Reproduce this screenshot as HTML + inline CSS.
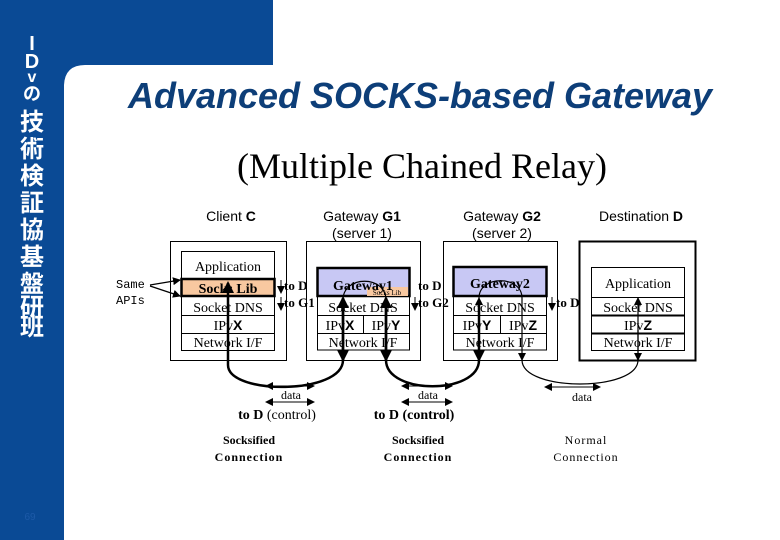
<!DOCTYPE html>
<html><head><meta charset="utf-8"><style>
body{margin:0;width:780px;height:540px;overflow:hidden;background:#fff}
svg{display:block}
.s{font-family:"Liberation Serif",serif}
.a{font-family:"Liberation Sans",sans-serif}
</style></head><body>
<svg width="780" height="540" viewBox="0 0 780 540">
<defs>
<marker id="ah" markerWidth="8" markerHeight="8" refX="7" refY="4" orient="auto" markerUnits="userSpaceOnUse"><path d="M0,0 L8,4 L0,8 z" fill="#000"/></marker>
<marker id="ahb" markerWidth="12" markerHeight="12" refX="10" refY="6" orient="auto" markerUnits="userSpaceOnUse"><path d="M0,0 L12,6 L0,12 z" fill="#000"/></marker>
</defs>
<path d="M0,0 H273 V65 H85 Q65,65 64,85 V540 H0 Z" fill="#0a4a95"/>
<g font-family="Liberation Sans,'Noto Sans CJK JP',sans-serif" font-weight="bold" fill="#fff" font-size="20" text-anchor="middle">
<text x="32" y="50">I</text><text x="32" y="68">D</text><text x="32" y="82" font-size="16">v</text>
<text x="32" y="100" font-size="18">の</text>
<text x="32" y="130" font-size="24">技</text><text x="32" y="157" font-size="24">術</text>
<text x="32" y="184" font-size="24">検</text><text x="32" y="211" font-size="24">証</text>
<text x="32" y="238" font-size="24">協</text><text x="32" y="265" font-size="24">基</text>
<text x="32" y="292" font-size="24">盤</text><text x="32" y="315" font-size="24">研</text>
<text x="32" y="335" font-size="24">班</text>
</g>
<text x="30" y="520" class="a" font-size="10" fill="#1d5aa8" text-anchor="middle">69</text>
<text x="128" y="108" class="a" font-size="36" font-weight="bold" font-style="italic" fill="#0d3e78" textLength="584" lengthAdjust="spacingAndGlyphs">Advanced SOCKS-based Gateway</text>
<text x="422" y="178" class="s" font-size="36" text-anchor="middle">(Multiple Chained Relay)</text>
<g class="a" font-size="14" text-anchor="middle">
<text x="231" y="221">Client <tspan font-weight="bold">C</tspan></text>
<text x="362" y="221">Gateway <tspan font-weight="bold">G1</tspan></text>
<text x="362" y="238">(server 1)</text>
<text x="502" y="221">Gateway <tspan font-weight="bold">G2</tspan></text>
<text x="502" y="238">(server 2)</text>
<text x="641" y="221">Destination <tspan font-weight="bold">D</tspan></text>
</g>
<g fill="none" stroke="#000" stroke-width="1">
<rect x="170.5" y="241.5" width="116" height="119"/>
<rect x="306.5" y="241.5" width="114" height="119"/>
<rect x="443.5" y="241.5" width="114" height="119"/>
<rect x="579.5" y="241.5" width="116" height="119" stroke-width="2"/>
</g>
<g stroke="#000" fill="#fff">
<rect x="181.5" y="251.5" width="93" height="99"/>
<rect x="181.5" y="279" width="93" height="17" fill="#f8c8a0" stroke-width="2.5"/>
<line x1="181" y1="315.5" x2="275" y2="315.5"/><line x1="181" y1="333.5" x2="275" y2="333.5"/>
<rect x="317.5" y="268" width="92" height="82"/>
<rect x="317.5" y="268" width="92" height="28" fill="#c8c8f4" stroke-width="2.5"/>
<rect x="367" y="287" width="41" height="9" fill="#f8c8a0" stroke="none"/>
<line x1="317" y1="315.5" x2="410" y2="315.5"/><line x1="317" y1="333.5" x2="410" y2="333.5"/><line x1="363.5" y1="315" x2="363.5" y2="333"/>
<rect x="453.5" y="267" width="93" height="83"/>
<rect x="453.5" y="267" width="93" height="29" fill="#c8c8f4" stroke-width="2.5"/>
<line x1="453" y1="315.5" x2="547" y2="315.5"/><line x1="453" y1="333.5" x2="547" y2="333.5"/><line x1="500.5" y1="315" x2="500.5" y2="333"/>
<rect x="591.5" y="267.5" width="93" height="83"/>
<line x1="591" y1="297.5" x2="685" y2="297.5"/>
<line x1="591" y1="315.5" x2="685" y2="315.5" stroke-width="2"/><line x1="591" y1="333.5" x2="685" y2="333.5" stroke-width="2"/>
</g>
<g class="s" font-size="14" text-anchor="middle">
<text x="228" y="271">Application</text>
<text x="228" y="293" font-weight="bold">Socks Lib</text>
<text x="228" y="312">Socket DNS</text>
<text x="228" y="330">IPv<tspan class="a" font-weight="bold">X</tspan></text>
<text x="228" y="347">Network I/F</text>
<text x="363" y="290" font-weight="bold">Gateway1</text>
<text x="387" y="295" font-size="7">Socks Lib</text>
<text x="363" y="312">Socket DNS</text>
<text x="340" y="330">IPv<tspan class="a" font-weight="bold">X</tspan></text>
<text x="386" y="330">IPv<tspan class="a" font-weight="bold">Y</tspan></text>
<text x="363" y="347">Network I/F</text>
<text x="500" y="288" font-weight="bold">Gateway2</text>
<text x="500" y="312">Socket DNS</text>
<text x="477" y="330">IPv<tspan class="a" font-weight="bold">Y</tspan></text>
<text x="523" y="330">IPv<tspan class="a" font-weight="bold">Z</tspan></text>
<text x="500" y="347">Network I/F</text>
<text x="638" y="288">Application</text>
<text x="638" y="312">Socket DNS</text>
<text x="638" y="330">IPv<tspan class="a" font-weight="bold">Z</tspan></text>
<text x="638" y="347">Network I/F</text>
</g>
<g class="s" font-size="13" font-weight="bold">
<text x="284" y="290">to D</text><text x="284" y="307">to G1</text>
<text x="418" y="290">to D</text><text x="418" y="307">to G2</text>
<text x="556" y="307">to D</text>
</g>
<g stroke="#000" stroke-width="1">
<line x1="281" y1="280" x2="281" y2="293" marker-end="url(#ah)"/>
<line x1="281" y1="297" x2="281" y2="310" marker-end="url(#ah)"/>
<line x1="415" y1="297" x2="415" y2="310" marker-end="url(#ah)"/>
<line x1="552" y1="297" x2="552" y2="310" marker-end="url(#ah)"/>
</g>
<text x="116" y="288" font-family="Liberation Mono,monospace" font-size="12">Same</text>
<text x="116" y="304" font-family="Liberation Mono,monospace" font-size="12">APIs</text>
<g stroke="#000" stroke-width="1.2">
<line x1="150" y1="285" x2="180" y2="280" marker-end="url(#ah)"/>
<line x1="150" y1="286" x2="180" y2="296" marker-end="url(#ah)"/>
</g>
<g stroke="#000" stroke-width="2.5" fill="none">
<line x1="228" y1="365" x2="228" y2="283" marker-end="url(#ahb)"/>
<line x1="343" y1="300" x2="343" y2="360" marker-end="url(#ahb)"/>
<line x1="343" y1="360" x2="343" y2="298" marker-end="url(#ahb)"/>
<line x1="386" y1="300" x2="386" y2="360" marker-end="url(#ahb)"/>
<line x1="386" y1="360" x2="386" y2="298" marker-end="url(#ahb)"/>
<line x1="479" y1="300" x2="479" y2="360" marker-end="url(#ahb)"/>
<path d="M228,365 C228,395 343,395 343,360"/>
<path d="M386,360 C386,395 479,395 479,360"/>
<path d="M343,300 C343,275 386,275 386,300" stroke-width="1.2"/>
</g>
<g stroke="#000" stroke-width="1.2" fill="none">
<line x1="479" y1="320" x2="479" y2="298" marker-end="url(#ah)"/>
<path d="M479,298 C479,275 522,275 522,298"/>
<line x1="522" y1="298" x2="522" y2="360" marker-end="url(#ah)"/>
<line x1="638" y1="360" x2="638" y2="298" marker-end="url(#ah)"/>
<line x1="638" y1="330" x2="638" y2="360" marker-end="url(#ah)"/>
<path d="M522,360 C522,392 638,392 638,360"/>
</g>
<g stroke="#000" stroke-width="1">
<line x1="268" y1="386" x2="314" y2="386" marker-end="url(#ah)"/><line x1="314" y1="386" x2="266" y2="386" marker-end="url(#ah)"/>
<line x1="268" y1="402" x2="314" y2="402" marker-end="url(#ah)"/><line x1="314" y1="402" x2="266" y2="402" marker-end="url(#ah)"/>
<line x1="404" y1="386" x2="452" y2="386" marker-end="url(#ah)"/><line x1="452" y1="386" x2="402" y2="386" marker-end="url(#ah)"/>
<line x1="404" y1="402" x2="452" y2="402" marker-end="url(#ah)"/><line x1="452" y1="402" x2="402" y2="402" marker-end="url(#ah)"/>
<line x1="547" y1="387" x2="600" y2="387" marker-end="url(#ah)"/><line x1="600" y1="387" x2="545" y2="387" marker-end="url(#ah)"/>
</g>
<g class="s" text-anchor="middle">
<text x="291" y="399" font-size="12">data</text>
<text x="428" y="399" font-size="12">data</text>
<text x="582" y="401" font-size="12">data</text>
<text x="277" y="419" font-size="14" font-weight="bold">to D <tspan font-weight="normal">(control)</tspan></text>
<text x="414" y="419" font-size="14" font-weight="bold">to D (control)</text>
<text x="249" y="444" font-size="12" font-weight="bold">Socksified</text>
<text x="249" y="461" font-size="12" font-weight="bold" letter-spacing="1">Connection</text>
<text x="418" y="444" font-size="12" font-weight="bold">Socksified</text>
<text x="418" y="461" font-size="12" font-weight="bold" letter-spacing="1">Connection</text>
<text x="586" y="444" font-size="12" letter-spacing="1">Normal</text>
<text x="586" y="461" font-size="12" letter-spacing="1">Connection</text>
</g>
</svg>
</body></html>
